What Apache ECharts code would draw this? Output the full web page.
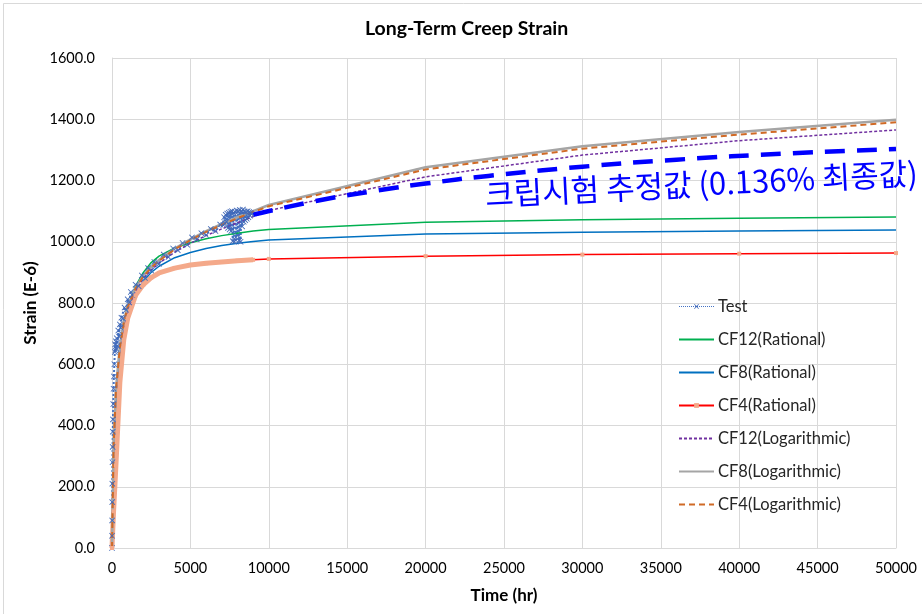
<!DOCTYPE html>
<html>
<head>
<meta charset="utf-8">
<script src="https://cdn.jsdelivr.net/npm/echarts@6/dist/echarts.min.js"></script>
<style>
  html, body { margin: 0; padding: 0; background: #fff; }
  #main { width: 922px; height: 614px; }
</style>
</head>
<body>
<div id="main"></div>
<script>
// 시험 데이터 (Test)
const testTime = [0, 5, 10, 15, 20, 30, 40, 50, 60, 80, 100, 120, 150, 180, 200, 220, 250, 280, 300, 350,
  400, 450, 500, 550, 600, 700, 800, 900, 1000, 1100, 1200, 1300, 1500, 1700, 1900, 2100, 2300, 2500, 2700, 3000,
  3300, 3600, 3900, 4200, 4500, 4800, 5100, 5400, 5700, 6000, 6300, 6600, 6900,
  7100, 7150, 7200, 7250, 7300, 7350, 7400, 7450, 7500, 7550, 7600, 7650, 7700, 7750, 7800, 7850, 7900, 7950,
  8000, 8050, 8100, 8150, 8200, 8250, 8300, 8350, 8400, 8450, 8500, 8550, 8600, 8650, 8700, 8750, 8800, 8850, 8900];
const testStrain = [0, 40, 90, 150, 210, 280, 330, 380, 420, 470, 520, 560, 600, 640, 665, 645, 675, 650, 685, 660,
  710, 690, 730, 720, 752, 750, 785, 778, 812, 802, 836, 826, 860, 855, 890, 882, 914, 906, 934, 928,
  958, 950, 978, 972, 996, 990, 1014, 1008, 1028, 1022, 1042, 1035, 1056,
  1055, 1080, 1060, 1088, 1065, 1092, 1045, 1095, 1040, 1098, 1035, 1100, 1002, 1095, 1000, 1098, 1005, 1102,
  1020, 1100, 1003, 1104, 1000, 1100, 1050, 1105, 1065, 1100, 1070, 1098, 1075, 1100, 1080, 1097, 1085, 1095, 1090];

// 예측식 (fits)
const fitTime = [0, 100, 250, 500, 750, 1000, 1500, 2000, 2500, 3000, 4000, 5000, 6000, 7000, 8000, 9000,
  10000, 20000, 30000, 40000, 50000];
const cf12Rational = [0, 300, 480, 640, 725, 785, 855, 900, 932, 953, 980, 997, 1010, 1020, 1028, 1035, 1040, 1064, 1072, 1077, 1081];
const cf8Rational = [0, 290, 465, 620, 705, 760, 830, 870, 900, 920, 948, 965, 978, 988, 995, 1001, 1006, 1025, 1031, 1035, 1038];
const cf4Rational = [0, 120, 270, 540, 680, 750, 825, 860, 883, 898, 914, 924, 930, 934, 938, 941, 944, 953, 958, 961, 963];
const cf12Log = [0, 320, 505, 648, 728, 780, 840, 880, 908, 930, 966, 995, 1020, 1042, 1062, 1082, 1102, 1212, 1283, 1330, 1365];
const cf8Log = [0, 340, 520, 660, 740, 790, 850, 890, 918, 940, 978, 1008, 1035, 1058, 1080, 1100, 1120, 1243, 1312, 1358, 1398];
const cf4Log = [0, 330, 515, 655, 735, 787, 847, 887, 915, 938, 975, 1005, 1032, 1055, 1077, 1097, 1116, 1236, 1304, 1350, 1390];

// 크립시험 추정값
const estTime = [9000, 13000, 17000, 20000, 24000, 30000, 36000, 43000, 50000];
const estStrain = [1088, 1133, 1168, 1190, 1215, 1245, 1268, 1288, 1303];

const font = 'Lato, "Liberation Sans", sans-serif';
const noMarker = { opacity: 0 };

function pairs(xs, ys) {
  return xs.map((x, i) => [x, ys[i]]);
}

const chart = echarts.init(document.getElementById('main'));

chart.setOption({
  animation: false,
  backgroundColor: '#fff',
  textStyle: { fontFamily: font },
  title: {
    text: 'Long-Term Creep Strain',
    left: 360,
    top: 14,
    textStyle: { fontFamily: font, fontSize: 19.5, fontWeight: 'bold', color: '#000' }
  },
  grid: { left: 112, right: 26, top: 58, bottom: 66 },
  legend: {
    data: [
      { name: 'Test', lineStyle: { width: 1 } },
      { name: 'CF12(Rational)', itemStyle: noMarker },
      { name: 'CF8(Rational)', itemStyle: noMarker },
      { name: 'CF4(Rational)' },
      { name: 'CF12(Logarithmic)', itemStyle: noMarker },
      { name: 'CF8(Logarithmic)', itemStyle: noMarker },
      { name: 'CF4(Logarithmic)', itemStyle: noMarker }
    ],
    orient: 'vertical',
    left: 673,
    top: 293,
    itemWidth: 35,
    itemHeight: 6,
    itemGap: 16,
    textStyle: { fontFamily: font, fontSize: 16.5, lineHeight: 17, color: '#262626', padding: [0, 0, 0, -1] }
  },
  xAxis: {
    type: 'value',
    min: 0,
    max: 50000,
    interval: 5000,
    name: 'Time (hr)',
    nameLocation: 'middle',
    nameGap: 39,
    nameTextStyle: { fontFamily: font, fontSize: 17, fontWeight: 'bold', color: '#000' },
    axisLine: { lineStyle: { color: '#d9d9d9' } },
    axisTick: { show: false },
    axisLabel: { margin: 13, fontSize: 14.5, color: '#000', formatter: v => String(v) },
    splitLine: { lineStyle: { color: '#d9d9d9' } }
  },
  yAxis: {
    type: 'value',
    min: 0,
    max: 1600,
    interval: 200,
    name: 'Strain (E-6)',
    nameLocation: 'middle',
    nameGap: 60,
    nameTextStyle: { fontFamily: font, fontSize: 17, fontWeight: 'bold', color: '#000' },
    axisLine: { show: true, lineStyle: { color: '#d9d9d9' } },
    axisTick: { show: false },
    axisLabel: { margin: 17, fontSize: 14.5, color: '#000', formatter: v => v.toFixed(1) },
    splitLine: { lineStyle: { color: '#d9d9d9' } }
  },
  graphic: [
    {
      type: 'rect',
      z: -1,
      shape: { x: 3.5, y: 3.5, width: 1000, height: 1000 },
      style: { fill: 'none', stroke: '#d9d9d9', lineWidth: 1 }
    },
    {
      type: 'text',
      x: 486,
      y: 210,
      rotation: 0.05,
      z: 100,
      style: {
        text: '크립시험 추정값 (0.136% 최종값)',
        fill: '#0000ff',
        font: '31px "Noto Sans CJK KR"',
        textAlign: 'left',
        textVerticalAlign: 'bottom'
      }
    }
  ],
  series: [
    {
      name: 'Test',
      type: 'line',
      data: pairs(testTime, testStrain),
      symbol: 'path://M0,1L1,0L5,4L9,0L10,1L6,5L10,9L9,10L5,6L1,10L0,9L4,5Z',
      symbolSize: 6,
      itemStyle: { color: '#4169b8' },
      lineStyle: { color: '#4472c4', width: 2, type: 'dotted' }
    },
    {
      name: 'CF12(Rational)',
      type: 'line',
      data: pairs(fitTime, cf12Rational),
      symbol: 'none',
      itemStyle: { color: '#00b050' },
      lineStyle: { color: '#00b050', width: 1.5 }
    },
    {
      name: 'CF8(Rational)',
      type: 'line',
      data: pairs(fitTime, cf8Rational),
      symbol: 'none',
      itemStyle: { color: '#0070c0' },
      lineStyle: { color: '#0070c0', width: 1.5 }
    },
    {
      name: 'CF4(Rational)',
      type: 'line',
      data: pairs(fitTime, cf4Rational),
      symbol: 'rect',
      symbolSize: 4,
      itemStyle: { color: '#f4a98a' },
      lineStyle: { color: '#ff0000', width: 1.5 }
    },
    {
      // CF4 마커가 촘촘해서 굵은 띠로 보이는 부분
      name: 'CF4 band',
      type: 'line',
      data: pairs(fitTime, cf4Rational).filter(p => p[0] <= 9000),
      symbol: 'none',
      lineStyle: { color: '#f4a98a', width: 5 }
    },
    {
      name: 'CF12(Logarithmic)',
      type: 'line',
      data: pairs(fitTime, cf12Log),
      symbol: 'none',
      itemStyle: { color: '#7030a0' },
      lineStyle: { color: '#7030a0', width: 1.5, type: [3, 2] }
    },
    {
      name: 'CF8(Logarithmic)',
      type: 'line',
      data: pairs(fitTime, cf8Log),
      symbol: 'none',
      itemStyle: { color: '#a5a5a5' },
      lineStyle: { color: '#a5a5a5', width: 2.5 }
    },
    {
      name: 'CF4(Logarithmic)',
      type: 'line',
      data: pairs(fitTime, cf4Log),
      symbol: 'none',
      itemStyle: { color: '#d06a26' },
      lineStyle: { color: '#d06a26', width: 2, type: [6, 4] }
    },
    {
      name: 'Estimate',
      type: 'line',
      data: pairs(estTime, estStrain),
      symbol: 'none',
      smooth: true,
      lineStyle: { color: '#0000ff', width: 4.5, type: [20, 12] }
    }
  ]
});
</script>
</body>
</html>
